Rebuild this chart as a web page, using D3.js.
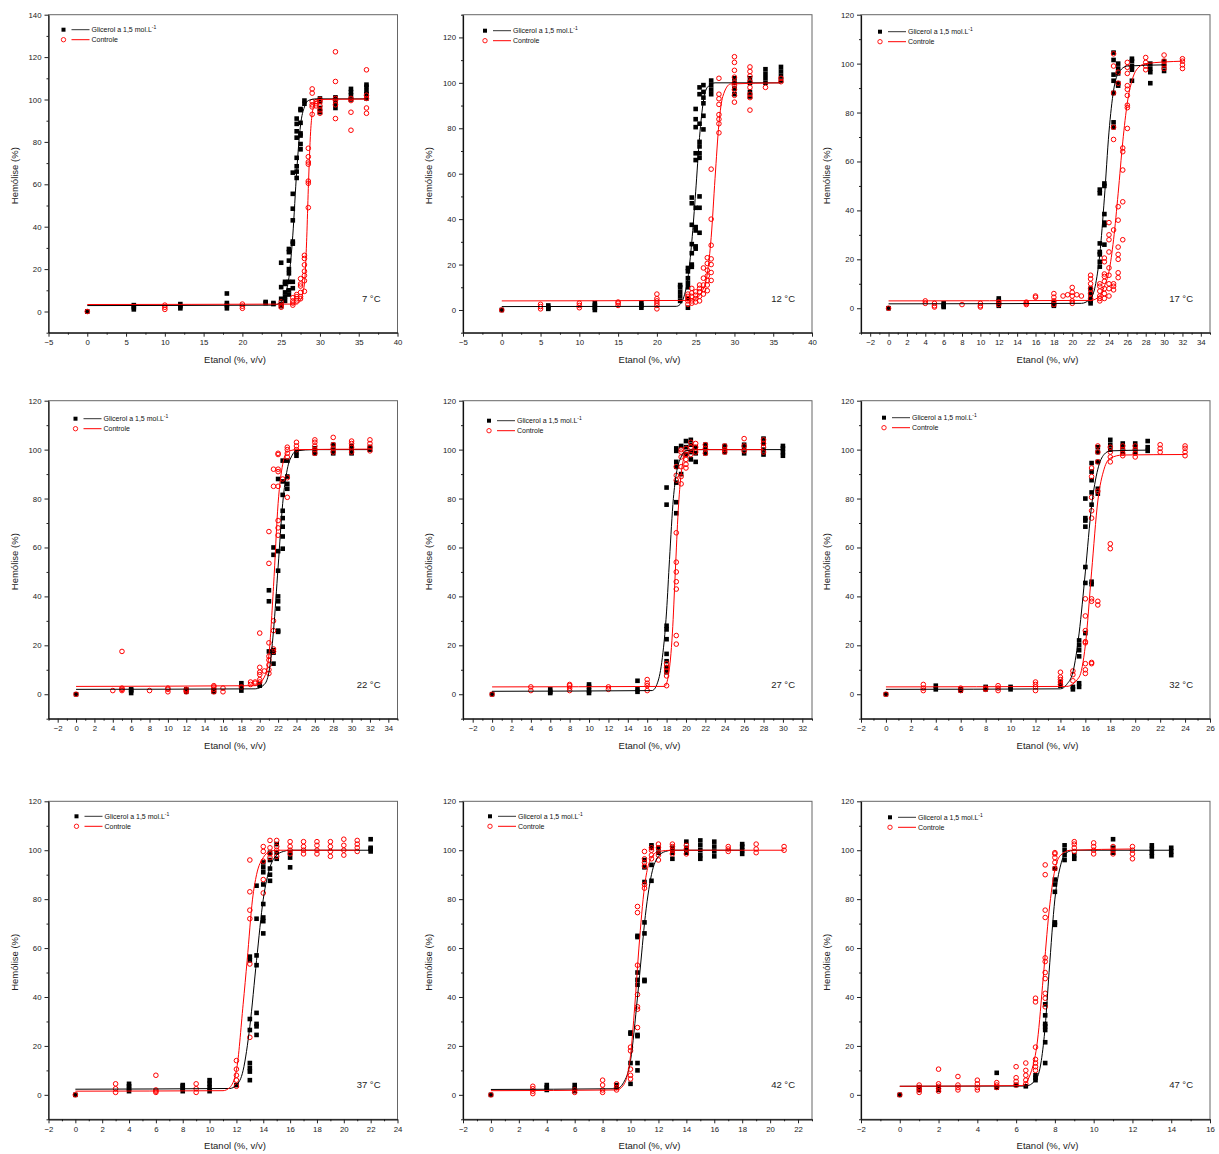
<!DOCTYPE html>
<html>
<head>
<meta charset="utf-8">
<script src="https://cdn.jsdelivr.net/npm/d3@7"></script>
<style>
  body { margin: 0; background: #fff; }
  text { font-family: "Liberation Sans", Arial, sans-serif; }
</style>
</head>
<body>
<svg id="chart" width="1219" height="1154"></svg>
<script>
// each row: [etanol, hemolise values...]
var glic7 = [[0,0],[6,1,2,3],[12,1.5,2.5,3.5],[18,1.5,3,4,8.5],[23,4,4.5],[24,3.5,4],
  [25,2.5,3.5,6,11.5,23],[25.5,5,7,9,13,14],[26,8,10,14,18,20,24,28,29.5],
  [26.5,11,14,32,33,43,48.5,55.5,65.5],[27,63,66,68.5,72.5,82,85,88.5,91],
  [27.5,76.5,79,83,84,89,95,95.5],[28,98,99.5],[30,94,96,99,100.5],[32,96,98,100,101],
  [34,100,102,103.5,105],[36,100.5,102.5,104,106,107]];
var ctrl7 = [[0,0],[10,1,2,3],[20,1.5,2.5,3.5],[25,2,3,4.5],[26.5,3,4,5,6.5],[27,5,6,7,8],
  [27.5,6,7,9,12,13,15.5],[28,9.5,14.5,17,19,22,25,26.5],[28.5,49,60.5,61.5,69.5,70.5,73,77],
  [29,93,96.5,97.5,99,103,105],[29.5,97,98,99],[30,93.5,95,97,99,100],
  [32,91,97.5,99.5,100.5,108.5,122.5],[34,85.5,94,99.5,100.5],[36,93.5,96,100.5,102,114]];
var glicFit7 = [[0,2.8],[24,3],[24.8,4],[25.5,8],[26,16],[26.5,36],[27,66],[27.5,88],[28,96.5],[28.5,99.5],[29.5,100.3],[36,100.3]];
var ctrlFit7 = [[0,3.3],[27,3.5],[27.5,5.5],[28,13],[28.3,35],[28.5,58],[28.8,85],[29.2,97],[29.7,100],[36,100.2]];

var glic12 = [[0,0],[6,0.5,1,2],[12,0,1,2,3],[18,1,2,3],[23,4,6,8,10,11],
  [24,1,5,10,12,14,17,18.5],[24.5,19,20,25,29,37.5,47,49.5],
  [25,27,28,35,36.5,45,66,69,80.5,84,88.5],[25.5,34,45,50,67,69,72,74,82,95,98],
  [26,79.5,85.5,91,93.5,96,99],[27,95,97,99,101],[30,95,97.5,100,102],
  [32,94,96,100,102],[34,100,102,104,106],[36,101,103,105,107]];
var ctrl12 = [[0,0],[5,0.5,1.5,2.5],[10,1,2,3],[15,2,3,3.5],[20,0.5,2,3,4,5,7],
  [24,2.5,4,5,6,7],[24.5,3,4,6,7.5,9.5],[25,3.5,5,6.5,8],[25.5,4,6,8,9.5,11],
  [26,7,9,11,14,18.5],[26.5,8.5,11,13,15,17.5,20.5,23],[27,13,16.5,20,22.5,28.5,40,62],
  [28,78,82,84,86,90.5,93,95,102],[30,91.5,94.5,97,99,100,102.5,105.5,109,111.5],
  [32,88,93.5,95,98,100.5,103,105,107],[34,98],[36,100.5,102]];
var glicFit12 = [[0,1.5],[22.5,1.6],[23,2.5],[23.5,6],[24,14],[24.5,30],[25,52],[25.5,76],[26,92],[26.5,98],[27.5,100],[36,100]];
var ctrlFit12 = [[0,4],[24,4.2],[25,5],[25.8,8],[26.5,16],[27,32],[27.5,58],[28,82],[28.5,94],[29.5,99.5],[36,100]];

var glic17 = [[0,0],[6,0.5,1,2],[12,1,2,3,4],[18,1,1.5,2.5],[22,2,3,4,6,8],
  [23,17,19,22,23,26.5,47,48.5],[23.5,26,34,35,38.5,50,51],
  [24.5,74,76,88,93,95.5,101.5,104.5],[25,91,92,96,98,100],[26.5,93,97.5,99,101,102],
  [28.5,92,96.5,98,100],[30,97,99,101]];
var ctrl17 = [[0,0],[4,2,3],[5,0.5,1,2],[8,1.5],[10,0.5,1,2],[12,1.5,2.5],[15,1.5,2,2.5],
  [16,4.5,5],[18,1.5,3,4.5,6],[19,5],[19.5,5.5],[20,2,3,5,6.5,8.5],[20.5,5.5],[21,5],
  [22,4,6,8,10,12,13.5],[23,3,4,5,7,9,10],[23.5,4,6,8,11,13,14,19,20.5],
  [24,5,8,10,13.5,16.5,23,28,30,35],[24.5,7.5,9,10,32,69,74,88,99,104],
  [25,12.5,14.5,20,22,25,36,41.5,92,96.5],[25.5,28,43.5,56.5,64,65.5],
  [26,73.5,82,83,87,89.5,91,96,98.5,100.5],[28,97.5,99,100.5,102.5],
  [30,98,99.5,101,103.5],[32,98,99.5,101,102]];
var glicFit17 = [[0,1.8],[21,2],[22,4],[22.5,9],[23,22],[23.5,45],[24,72],[24.5,89],[25,96],[26,99],[30,99.5]];
var ctrlFit17 = [[0,3],[22,3.2],[23,5],[23.5,9],[24,15],[24.5,28],[25,47],[25.5,68],[26,84],[26.5,93],[27,97.5],[28,100],[32,101]];

var glic22 = [[0,0],[6,0.5,1.5,2],[12,1,2],[15,1,1.5],[18,1.5,3,4.5],[20,3.5,4],
  [21,17.5,38,42.5],[21.5,12.5,17,18,57,60],[22,25.5,26,35,38,40,50.5,58.5,88],
  [22.5,59.5,64.5,68.5,72,75,81.5,87,95.5],[23,84,86,89,95.5],[24,97.5,99],
  [26,98.5,99.5,100.5],[28,98.5,100,102],[30,98.5,100,101.5],[32,100,101]];
var ctrl22 = [[0,0],[4,1.5],[5,1.5,2,2.5,17.5],[8,1.5],[10,1,2,2.5],[12,1,1.5,2],
  [15,1,2,3,3.5],[16,1,2.5],[18,3],[19,4,5],[19.5,4.5,5],[20,5,6,8,9,11,25],[20.5,9.5],
  [21,8.5,10,12,14,15.5,21,53.5,66.5],[21.5,17.5,18.5,26,30,85,92],
  [22,65,68,71,85,91,92,98,98.5],[22.5,88],[23,80.5,88.5,97,98.5,100,101],
  [24,100,101.5,103],[26,98.5,100,101.5,103,104],[28,99,100.5,102,105],
  [30,99,101,102.5,103.5],[32,99.5,101,102.5,104]];
var glicFit22 = [[0,2],[19.5,2.2],[20.5,4],[21,9],[21.5,26],[22,52],[22.5,78],[23,92],[23.5,97.5],[24,99.5],[26,100],[32,100]];
var ctrlFit22 = [[0,3.2],[19.5,3.5],[20.5,7],[21,16],[21.5,44],[22,78],[22.5,94],[23,99],[24,100],[32,100.2]];

var glic27 = [[0,0],[6,0.5,1,2],[10,0.5,1.5,3,4],[15,1,2,5.5],
  [18,9,11,13.5,16.5,22.5,26.5,28,77.5,84.5],[19,74,78.5,86.5,93,95,99.5,100.5],
  [19.5,90,101.5],[20,98,101,103.5],[20.5,96,99,102,104],[21,95,98.5,101],
  [22,98.5,100.5,102],[24,99,100.5,101.5],[26,98.5,100.5,102],
  [28,98,100,102.5,104.5],[30,97.5,99,100.5,101.5]];
var ctrl27 = [[0,0],[4,1.5,3],[8,1.5,2.5,3.5,4],[12,2,3],[16,1.5,3.5,4.5,6],
  [18,3.5,7.5,9.5,11,12.5],[19,20.5,24,43,46,50,54,66,87.5,89.5,93],
  [19.5,86,89,93,97,99,100],[20,92.5,94,96,98,100.5],[20.5,98,101,103],
  [21,99,101,102.5],[22,98.5,100.5,102],[24,99,100,101.5],[26,99.5,101.5,104.5],
  [28,99,101,102.5,104]];
var glicFit27 = [[0,1.2],[16.5,1.5],[17,4],[17.5,13],[18,34],[18.3,55],[18.7,80],[19,90],[19.5,97],[20,99.5],[21,100],[30,100]];
var ctrlFit27 = [[0,3],[17.8,3.2],[18.2,8],[18.6,25],[18.9,50],[19.2,75],[19.5,90],[20,98.5],[21,100],[28,100]];

var glic32 = [[0,0],[4,2,3.5],[6,1.5,2],[8,2,3],[10,2,3],[14,3.5,5],[15,2,3],
  [15.5,3,4.5,15.5,18,20,22],[16,25,45.5,52,68.5,71,72,80],
  [16.5,45,46,77.5,82.5,87.5,91,94.5],[17,82,84,95,99,101],[18,100,102,104],
  [19,99,101,102.5],[20,99,101,102.5],[21,99.5,101,103.5]];
var ctrl32 = [[0,0],[3,1.5,2.5,4],[6,1.5,2.5],[8,2,2.5],[9,1.5,2.5,3.5],[12,1.5,3,4,5],
  [14,4,5,6,7,9],[15,5.5,8,9.5],[16,8.5,10,12.5,21,21.5,26,32,39],
  [16.5,12.5,13,38,39,72,75,80.5,89,92.5],[17,36.5,38,83,95,99,101.5],
  [18,59.5,61.5,95,97,99,101],[19,97.5,98.5,100,101.5],[20,97,98.5,100,101.5],
  [22,99,100.5,102],[24,97.5,99,100.5,101.5]];
var glicFit32 = [[0,2],[14,2.2],[14.5,4],[15,9],[15.5,25],[16,50],[16.5,77],[17,92],[17.5,98],[18,99.5],[21,99.8]];
var ctrlFit32 = [[0,3],[14.5,3.2],[15.5,7],[16,20],[16.5,50],[17,79],[17.5,92],[18,96.5],[19,97.8],[24,98]];

var glic37 = [[0,0],[4,1.5,2.5,3.5,4.5],[8,1.5,2.5,3.5,4],[10,1.5,3,4.5,6],[12,4],
  [13,6,9.5,11,13,26.5,31,55,56.5],[13.5,24.5,28,29,33.5,53,57,72,85.5],
  [14,66,71,72.5,78,86,91,93,95],[14.5,87.5,90,92.5,96,99],[15,96.5,99,102.5],
  [16,93,97,99],[22,99.5,100.5,101,104.5]];
var ctrl37 = [[0,0],[3,1,2.5,4.5],[6,1,1.5,2,8],[9,1,2.5,4.5],[12,3.5,6,8,10.5,14],
  [13,23.5,53.5,72,75.5,83,96],[14,82.5,88,95.5,99.5,101.5],[14.5,97,98.5,101,104],
  [15,97.5,100,101.5,104],[16,98.5,100,101.5,103.5],[17,98.5,100,101.5,103.5],
  [18,98.5,100,102,103.5],[19,97.5,99.5,101.5,103.5],[20,98,100,102,104.5],
  [21,99.5,101,102.5,104]];
var glicFit37 = [[0,2.3],[11.5,2.6],[12,4],[12.5,10],[13,28],[13.5,55],[14,80],[14.5,93],[15,98],[15.5,99.5],[16,100],[22,100]];
var ctrlFit37 = [[0,1.5],[11,1.7],[11.5,3],[12,10],[12.5,37],[12.8,55],[13.2,80],[13.5,90],[14,97],[14.5,99.5],[15,100],[21,100]];

var glic42 = [[0,0],[4,2,3,4],[6,1.5,2.5,4],[9,3,4],[10,4.5,13,25,25.5],
  [10.5,10,13,24,24.5,45,47,50,64.5,65],[11,46.5,47,66,70.5,87,93,96],
  [11.5,87.5,94,101,102],[12,99,101],[13,96.5,99,101],[14,99,101,103.5],
  [15,96.5,98,100,102,104],[16,97.5,99.5,101.5,103.5],[18,98.5,100,101.5,102.5]];
var ctrl42 = [[0,0],[3,0.5,1.5,2.5,3.5],[6,1,2],[8,1,2,4,6],[9,2,3,4.5],
  [10,6.5,8,10.5,18,19.5],[10.5,27.5,35,36,41,53,74.5,77],[11,84.5,86,93.5,95,96.5,99.5],
  [11.5,96.5,98,100,101],[12,96,98,101,102.5],[13,98.5,100,101.5,102.5],
  [14,98.5,100.5,102],[17,99.5,100.5,101.5],[19,99,100.5,102.5],[21,100,101.5]];
var glicFit42 = [[0,2.2],[9,2.5],[9.5,5],[10,14],[10.5,40],[10.8,58],[11,70],[11.5,90],[12,97.5],[12.5,99.5],[13,100],[18,100]];
var ctrlFit42 = [[0,1.7],[9,2],[9.5,4],[10,16],[10.3,36],[10.6,60],[11,85],[11.5,97],[12,99.5],[13,100],[21,100]];

var glic47 = [[0,0],[1,2,3],[2,2,3],[5,3,9],[6,4],[6.5,3.5],[7,6,7,8],
  [7.5,13,21.5,26.5,28,29,32.5,37],[8,69.5,70.5,83,86,88,92.5],[8.5,96,98,100,102],
  [9,96.5,98],[11,99,101,104.5],[13,97.5,99,100.5,102],[14,98,99.5,101]];
var ctrl47 = [[0,0],[1,1,2,3,4],[2,1.5,2.5,3.5,4.5,10.5],[3,2,3,4,7.5],[4,2,3,4.5,6],
  [5,3,4,5],[6,4,5.5,7,11.5],[6.5,4.5,6,8,10,13],[7,10,11.5,13,14.5,19.5,38,39.5],
  [7.5,36,39.5,41.5,47.5,50,54.5,56,72.5,75.5,90,94],[8,92.5,95,97,98.5,99],
  [9,99.5,101,102.5,103.5],[10,98.5,100,101.5,103],[11,98.5,100,101.5],
  [12,96.5,98.5,100,101.5]];
var glicFit47 = [[0,3.5],[6.5,3.6],[7,6],[7.3,14],[7.5,28],[7.7,50],[8,80],[8.3,94],[8.6,99],[9,100],[14,100]];
var ctrlFit47 = [[0,3.5],[6.3,3.8],[6.8,10],[7.1,22],[7.4,48],[7.7,75],[8,92],[8.3,98],[8.8,100],[12,100.5]];

var temps = ["7 °C", "12 °C", "17 °C", "22 °C", "27 °C", "32 °C", "37 °C", "42 °C", "47 °C"];
var xDomains = [[-5,40],[-5,40],[-3,35],[-3,35],[-3,33],[-2,26],[-2,24],[-2,23],[-2,16]];
var xSteps = [5, 5, 2, 2, 2, 2, 2, 2, 2];
var yDomains = [[-10,140],[-10,130],[-10,120],[-10,120],[-10,120],[-10,120],[-10,120],[-10,120],[-10,120]];
var glicData = [glic7, glic12, glic17, glic22, glic27, glic32, glic37, glic42, glic47];
var ctrlData = [ctrl7, ctrl12, ctrl17, ctrl22, ctrl27, ctrl32, ctrl37, ctrl42, ctrl47];
var glicFits = [glicFit7, glicFit12, glicFit17, glicFit22, glicFit27, glicFit32, glicFit37, glicFit42, glicFit47];
var ctrlFits = [ctrlFit7, ctrlFit12, ctrlFit17, ctrlFit22, ctrlFit27, ctrlFit32, ctrlFit37, ctrlFit42, ctrlFit47];

// layout
var colLeft = [48.5, 463, 861], colWidth = 349;
var rowTop = [14.7, 400.7, 801.3], rowHeight = 318;
var legendOff = [[15,15],[22,16],[19,17],[27,18],[26,20],[23,17],[28,15],[27,15],[29,16]];

var svg = d3.select("#chart");
svg.append("rect").attr("width", 1219).attr("height", 1154).attr("fill", "#fff");

function flatten(rows) {
  var out = [];
  rows.forEach(function(r) {
    for (var i = 1; i < r.length; i++) out.push([r[0], r[i]]);
  });
  return out;
}

temps.forEach(function(temp, i) {
  var left = colLeft[i % 3], top = rowTop[Math.floor(i / 3)];
  var width = colWidth, height = rowHeight;
  var g = svg.append("g").attr("transform", "translate(" + left + "," + top + ")");

  var x = d3.scaleLinear().domain(xDomains[i]).range([0, width]);
  var y = d3.scaleLinear().domain(yDomains[i]).range([height, 0]);

  var step = xSteps[i];
  var xd = xDomains[i], yd = yDomains[i];
  var xMajor = d3.range(Math.ceil(xd[0] / step) * step, xd[1] + 1e-6, step);
  var xMinor = d3.range(Math.ceil(xd[0] / (step / 2)) * (step / 2), xd[1] + 1e-6, step / 2)
      .filter(function(v) { return xMajor.indexOf(v) < 0; });
  var yMajor = d3.range(0, yd[1] + 1e-6, 20);
  var yMinor = d3.range(-10, yd[1] + 1e-6, 10).filter(function(v) { return v % 20 !== 0; });

  // frame (top/right lighter)
  g.append("rect")
      .attr("width", width).attr("height", height)
      .attr("fill", "none").attr("stroke", "#666").attr("stroke-width", 1);

  // minor ticks
  g.append("g")
      .attr("transform", "translate(0," + height + ")")
      .call(d3.axisBottom(x).tickValues(xMinor).tickSize(2).tickSizeOuter(0).tickFormat(""))
      .call(function(a) { a.select(".domain").remove(); });
  g.append("g")
      .call(d3.axisLeft(y).tickValues(yMinor).tickSize(2).tickSizeOuter(0).tickFormat(""))
      .call(function(a) { a.select(".domain").remove(); });

  var xAxis = g.append("g")
      .attr("transform", "translate(0," + height + ")")
      .call(d3.axisBottom(x).tickValues(xMajor).tickSize(4).tickSizeOuter(0).tickPadding(3));
  var yAxis = g.append("g")
      .call(d3.axisLeft(y).tickValues(yMajor).tickSize(4).tickSizeOuter(0).tickPadding(3));

  [xAxis, yAxis].forEach(function(a) {
    a.select(".domain").attr("stroke", "#111").attr("stroke-width", 1.2);
    a.selectAll("text").attr("font-size", 7.8).attr("font-family", "Liberation Sans, Arial, sans-serif").attr("fill", "#222");
  });
  g.selectAll(".tick line").attr("stroke", "#222");

  // axis titles
  g.append("text")
      .attr("transform", "translate(-31," + (height / 2 + 2) + ") rotate(-90)")
      .attr("text-anchor", "middle")
      .attr("font-size", 9.5).attr("fill", "#222")
      .text("Hemólise (%)");
  g.append("text")
      .attr("x", width / 2 + 12).attr("y", height + 30)
      .attr("text-anchor", "middle")
      .attr("font-size", 9.5).attr("fill", "#222")
      .text("Etanol (%, v/v)");

  // points
  g.append("g").selectAll("rect")
      .data(flatten(glicData[i]))
    .enter().append("rect")
      .attr("x", function(d) { return x(d[0]) - 2.3; })
      .attr("y", function(d) { return y(d[1]) - 2.3; })
      .attr("width", 4.6).attr("height", 4.6)
      .attr("fill", "#000");
  g.append("g").selectAll("circle")
      .data(flatten(ctrlData[i]))
    .enter().append("circle")
      .attr("cx", function(d) { return x(d[0]); })
      .attr("cy", function(d) { return y(d[1]); })
      .attr("r", 2.3)
      .attr("fill", "none").attr("stroke", "#ff0000").attr("stroke-width", 1);

  // fitted curves
  var line = d3.line()
      .curve(d3.curveMonotoneX)
      .x(function(d) { return x(d[0]); })
      .y(function(d) { return y(d[1]); });
  g.append("path").datum(glicFits[i])
      .attr("fill", "none").attr("stroke", "#000").attr("stroke-width", 1).attr("d", line);
  g.append("path").datum(ctrlFits[i])
      .attr("fill", "none").attr("stroke", "#ff0000").attr("stroke-width", 1).attr("d", line);

  // legend
  var lx = legendOff[i][0], ly = legendOff[i][1];
  var lg = g.append("g").attr("transform", "translate(" + lx + "," + ly + ")");
  lg.append("rect").attr("x", -2).attr("y", -2).attr("width", 4).attr("height", 4).attr("fill", "#000");
  lg.append("line").attr("x1", 8).attr("x2", 26).attr("y1", 0).attr("y2", 0).attr("stroke", "#333");
  var t1 = lg.append("text").attr("x", 28).attr("y", 2.5).attr("font-size", 7).attr("fill", "#111");
  t1.append("tspan").text("Glicerol a 1,5 mol.L");
  t1.append("tspan").attr("dy", -3).attr("font-size", 5).text("-1");
  lg.append("circle").attr("cx", 0).attr("cy", 10).attr("r", 2.2)
      .attr("fill", "none").attr("stroke", "#ff0000").attr("stroke-width", 0.9);
  lg.append("line").attr("x1", 8).attr("x2", 26).attr("y1", 10).attr("y2", 10).attr("stroke", "#ff0000");
  lg.append("text").attr("x", 28).attr("y", 12.5).attr("font-size", 7).attr("fill", "#111").text("Controle");

  // temperature label
  g.append("text")
      .attr("x", width - 17).attr("y", height - 31)
      .attr("text-anchor", "end")
      .attr("font-size", 9.5).attr("fill", "#222")
      .text(temp);
});
</script>
</body>
</html>
